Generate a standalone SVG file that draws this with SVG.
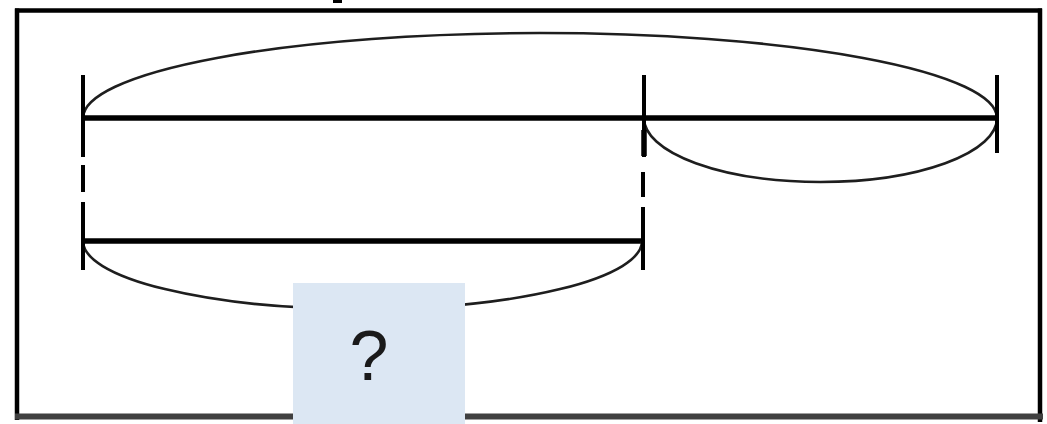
<svg xmlns="http://www.w3.org/2000/svg" width="1047" height="424" viewBox="0 0 1047 424">
<style>
.frame{stroke:#000;stroke-width:4.5;fill:none}
.bar{stroke:#000;stroke-width:5.5;fill:none}
.tick{stroke:#000;stroke-width:4;fill:none}
.arc{stroke:#1e1e1e;stroke-width:2.6;fill:none}
.q{font-family:"Liberation Sans",Arial,sans-serif;font-size:70px;fill:#1a1a1a;text-anchor:middle}
</style>
<rect width="1047" height="424" fill="#fff"/>
<g id="frame">
<rect x="333" y="0" width="9" height="3" fill="#000"/>
<line class="frame" x1="15" y1="10.5" x2="1042" y2="10.5"/>
<line class="frame" x1="17" y1="8.5" x2="17" y2="420"/>
<line class="frame" x1="1040" y1="8.5" x2="1040" y2="422"/>
<line stroke="#404040" stroke-width="6" x1="15" y1="416.5" x2="1043" y2="416.5"/>
</g>
<g id="connectors">
<line class="bar" x1="83" y1="118" x2="997" y2="118"/>
<line class="bar" x1="83" y1="241" x2="643" y2="241"/>
<path class="arc" d="M83,118 A457,85 0 0 1 997,118"/>
<path class="arc" d="M644,118 A176.5,64 0 0 0 997,118"/>
<path class="arc" d="M83,241 A279.5,68 0 0 0 642,241"/>
<g class="tick">
<line x1="83" y1="75" x2="83" y2="157"/>
<line x1="83" y1="165" x2="83" y2="192"/>
<line x1="83" y1="202" x2="83" y2="270"/>
<line x1="644" y1="75" x2="644" y2="157"/>
<line x1="644" y1="130" x2="644" y2="156" stroke-width="5.5"/>
<line x1="643" y1="172" x2="643" y2="197"/>
<line x1="643" y1="207" x2="643" y2="270"/>
<line x1="997" y1="75" x2="997" y2="153"/>
</g>
</g>
<g id="question">
<rect x="293" y="283" width="172" height="141" fill="#dce7f3"/>
<text class="q" x="369" y="380">?</text>
</g>
</svg>
